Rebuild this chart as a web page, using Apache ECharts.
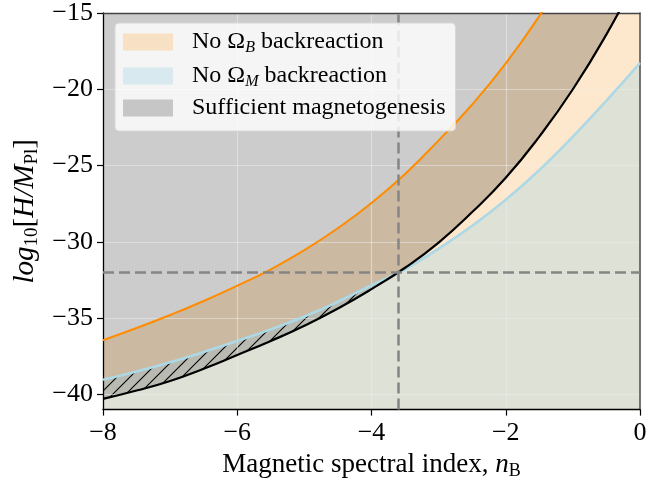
<!DOCTYPE html>
<html>
<head>
<meta charset="utf-8">
<script src="https://cdn.jsdelivr.net/npm/echarts@6/dist/echarts.min.js"></script>
<style>
html,body{margin:0;padding:0;background:#fff;}
#chart{width:672px;height:485px;}
</style>
</head>
<body>
<div id="chart"></div>
<script>
// ---- data ----
const nB        = [-8, -7.5, -7, -6.5, -6, -5.5, -5, -4.5, -4, -3.5, -3, -2.5, -2, -1.5, -1, -0.5, 0];
const noOmegaB  = [-36.45, -35.65, -34.8, -33.88, -32.88, -31.8, -30.55, -29.1, -27.45, -25.55, -23.35, -21.0, -18.3, -15.2, -11.7, -7.8, -3.5];
const noOmegaM  = [-39.05, -38.5, -37.9, -37.22, -36.5, -35.74, -34.9, -33.93, -32.85, -31.8, -30.45, -28.95, -27.25, -25.3, -23.1, -20.75, -18.27];
const sufficient= [-40.3, -39.75, -39.12, -38.32, -37.42, -36.5, -35.5, -34.37, -33.1, -31.7, -30.05, -28.05, -25.8, -23.1, -20.0, -16.4, -12.3];
const xTicks = [-8, -6, -4, -2, 0];
const yTicks = [-40, -35, -30, -25, -20, -15];
const refNB = -3.6;
const refH = -32;
const legendNames = ['No Omega_B backreaction', 'No Omega_M backreaction', 'Sufficient magnetogenesis'];

const pair = ys => nB.map((x, i) => [x, ys[i]]);
const lowest = sufficient.map((v, i) => Math.min(v, noOmegaM[i]));

function hatchPattern() {
  const s = 13;
  const c = document.createElement('canvas');
  c.width = s; c.height = s;
  const g = c.getContext('2d');
  g.fillStyle = '#b9bbb3';
  g.fillRect(0, 0, s, s);
  g.strokeStyle = '#000';
  g.lineWidth = 1.1;
  g.beginPath();
  g.moveTo(0, s); g.lineTo(s, 0);
  g.moveTo(-s / 2, s / 2); g.lineTo(s / 2, -s / 2);
  g.moveTo(s / 2, s * 1.5); g.lineTo(s * 1.5, s / 2);
  g.stroke();
  return c;
}

const FONT = 'Liberation Serif';
const minus = v => String(v).replace('-', '\u2212');

const fill = (data, color) => ({
  type: 'line', data, smooth: 0.5, showSymbol: false, silent: true, z: 1,
  lineStyle: { width: 0 }, areaStyle: { color, opacity: 1, origin: 'start' }
});
const curve = (data, color, width) => ({
  type: 'line', data, smooth: 0.5, showSymbol: false, silent: true, z: 3,
  lineStyle: { color, width }
});

const chart = echarts.init(document.getElementById('chart'));
chart.setOption({
  animation: false,
  grid: { left: 103, right: 32, top: 11, bottom: 74, show: true, backgroundColor: '#cccccc', borderWidth: 0 },
  xAxis: [{
    type: 'value', min: -8, max: 0, interval: 2, z: 2,
    name: '{n|Magnetic spectral index, }{it|n}{sub|B}', nameLocation: 'middle', nameGap: 34,
    nameTextStyle: { fontFamily: FONT, fontSize: 27, color: '#000',
      rich: { n: { fontFamily: FONT, fontSize: 27, color: '#000' },
              it: { fontFamily: FONT, fontSize: 27, fontStyle: 'italic', color: '#000' },
              sub: { fontFamily: FONT, fontSize: 18, color: '#000', padding: [12, 0, 0, 0] } } },
    axisLine: { show: true, onZero: false, lineStyle: { color: '#000', width: 1.3 } },
    axisTick: { show: true, inside: false, length: 6, lineStyle: { color: '#000', width: 1.2 }, customValues: xTicks },
    axisLabel: { fontFamily: FONT, fontSize: 26, color: '#000', margin: 11, formatter: minus, customValues: xTicks },
    splitLine: { show: true, lineStyle: { color: 'rgba(236,236,236,0.55)', width: 1.2 } }
  }, {
    type: 'value', min: -8, max: 0, position: 'top', z: 2,
    axisLine: { show: true, onZero: false, lineStyle: { color: '#444', width: 1.3 } },
    axisTick: { show: false }, axisLabel: { show: false }, splitLine: { show: false }
  }],
  yAxis: [{
    type: 'value', min: -41, max: -15, z: 2,
    name: '{it|log}{sub|10}[{it|H/M}{sub|Pl}]', nameLocation: 'middle', nameRotate: 90, nameGap: 58,
    nameTextStyle: { fontFamily: FONT, fontSize: 29, color: '#000',
      rich: { it: { fontFamily: FONT, fontSize: 29, fontStyle: 'italic', color: '#000' },
              sub: { fontFamily: FONT, fontSize: 19, color: '#000', padding: [13, 0, 0, 0] } } },
    axisLine: { show: true, onZero: false, lineStyle: { color: '#000', width: 1.3 } },
    axisTick: { show: true, inside: false, length: 6, lineStyle: { color: '#000', width: 1.2 }, customValues: yTicks },
    axisLabel: { fontFamily: FONT, fontSize: 26, color: '#000', margin: 10, formatter: minus, customValues: yTicks },
    splitLine: { show: true, lineStyle: { color: 'rgba(236,236,236,0.55)', width: 1.2 } }
  }, {
    type: 'value', min: -41, max: -15, position: 'right', z: 2,
    axisLine: { show: true, onZero: false, lineStyle: { color: '#555', width: 1.6 } },
    axisTick: { show: false }, axisLabel: { show: false }, splitLine: { show: false }
  }],
  legend: {
    left: 115, top: 23, orient: 'vertical', itemWidth: 50, itemHeight: 17, itemGap: 6,
    padding: [5, 10, 11, 8], backgroundColor: 'rgba(255,255,255,0.8)', borderColor: '#d8d8d8',
    borderWidth: 1, borderRadius: 4, icon: 'rect', selectedMode: false, z: 10,
    data: [
      { name: legendNames[0], itemStyle: { color: '#f8e0c5' } },
      { name: legendNames[1], itemStyle: { color: '#d8e9ef' } },
      { name: legendNames[2], itemStyle: { color: '#c6c6c6' } }
    ],
    formatter: name => {
      if (name === legendNames[0]) return '{a|No \u03A9}{sub|B}{b| backreaction}';
      if (name === legendNames[1]) return '{a|No \u03A9}{sub|M}{b| backreaction}';
      return '{a|Sufficient magnetogenesis}';
    },
    textStyle: { fontFamily: FONT, fontSize: 24, color: '#000',
      rich: { a: { fontFamily: FONT, fontSize: 24, color: '#000', lineHeight: 30, padding: [0, 0, 0, 14] },
              b: { fontFamily: FONT, fontSize: 24, color: '#000', lineHeight: 30 },
              sub: { fontFamily: FONT, fontSize: 16, fontStyle: 'italic', color: '#000', lineHeight: 18, padding: [12, 0, 0, 0] } } }
  },
  series: [
    fill(pair(noOmegaB), '#ccb9a1'),
    fill(pair(sufficient), '#fee8cd'),
    fill(pair(noOmegaM), { image: hatchPattern(), repeat: 'repeat' }),
    fill(pair(lowest), '#dee1d6'),
    curve(pair(noOmegaB), '#ff8c00', 2),
    curve(pair(noOmegaM), '#add8e6', 2.6),
    curve(pair(sufficient), '#000000', 2.2),
    {
      type: 'line', data: [], z: 4, silent: true,
      markLine: {
        silent: true, symbol: ['none', 'none'], label: { show: false },
        lineStyle: { color: '#858585', width: 2.5, type: [11, 5] },
        data: [{ xAxis: refNB }, { yAxis: refH }]
      }
    },
    { type: 'line', name: legendNames[0], data: [] },
    { type: 'line', name: legendNames[1], data: [] },
    { type: 'line', name: legendNames[2], data: [] }
  ]
});
</script>
</body>
</html>
